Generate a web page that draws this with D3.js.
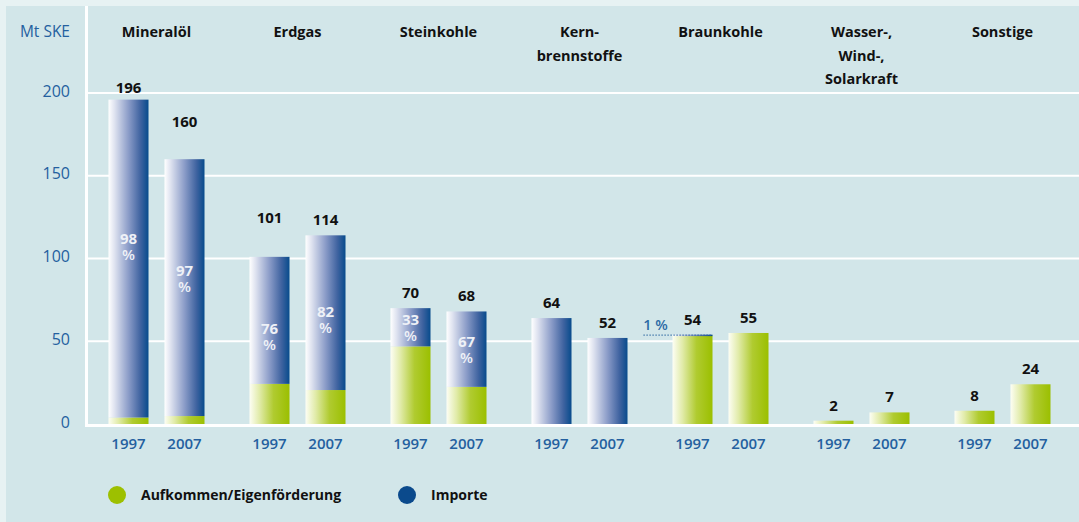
<!DOCTYPE html>
<html>
<head>
<meta charset="utf-8">
<script src="https://cdn.jsdelivr.net/npm/d3@7"></script>
<style>
  body { margin: 0; background: #e7f2f3; }
  svg { display: block; font-family: "Open Sans", "Noto Sans", sans-serif; }
</style>
</head>
<body>
<svg id="chart" width="1079" height="522"></svg>
<script>
// data in Mt SKE
var categories = ["Mineralöl", "Erdgas", "Steinkohle", "Kern-|brennstoffe", "Braunkohle", "Wasser-,|Wind-,|Solarkraft", "Sonstige"];
var years = ["1997", "2007"];
var total1997 = [196, 101, 70, 64, 54, 2, 8];
var total2007 = [160, 114, 68, 52, 55, 7, 24];
// share of imports in percent
var importShare1997 = [98, 76, 33, 100, 1, 0, 0];
var importShare2007 = [97, 82, 67, 100, 0, 0, 0];
var yTicks = [0, 50, 100, 150, 200];
var legendLabels = ["Aufkommen/Eigenförderung", "Importe"];

var green = "#9dc000", blue = "#0b4a8c", tickBlue = "#24609f";

// build bar rows
var rows = [];
categories.forEach(function (c, i) {
  [[total1997, importShare1997], [total2007, importShare2007]].forEach(function (s, j) {
    var tot = s[0][i], share = s[1][i];
    var imp = tot * share / 100;
    rows.push({cat: c, year: years[j], total: tot, share: share, eigen: tot - imp, imp: imp});
  });
});

var svg = d3.select("#chart");
var defs = svg.append("defs");
function grad(id, stops) {
  var g = defs.append("linearGradient").attr("id", id).attr("x1", "0%").attr("x2", "100%").attr("y1", "0%").attr("y2", "0%");
  stops.forEach(function (s) { g.append("stop").attr("offset", s[0]).attr("stop-color", s[1]); });
}
grad("gBlue", [["0%", "#ffffff"], ["15%", "#dfe3f0"], ["50%", "#8b9cc8"], ["80%", "#3f63a0"], ["100%", "#074b8c"]]);
grad("gGreen", [["0%", "#fdfef4"], ["25%", "#e1eba9"], ["60%", "#b0cb30"], ["100%", "#9bbf00"]]);

// panel
svg.append("rect").attr("x", 6).attr("y", 6).attr("width", 1073).attr("height", 516).attr("fill", "#d2e6e9");

var y = d3.scaleLinear().domain([0, 200]).range([424, 93]);
var x0 = d3.scaleBand().domain(categories).range([86, 1073]);
var x1 = d3.scaleBand().domain(years).range([22.5, 118.5]).paddingInner(16 / 56);

// grid
svg.append("g").selectAll("line").data(yTicks.filter(function (d) { return d > 0; })).enter()
  .append("line")
  .attr("x1", 88).attr("x2", 1079)
  .attr("y1", function (d) { return y(d); }).attr("y2", function (d) { return y(d); })
  .attr("stroke", "#ffffff").attr("stroke-width", 2);

// y axis labels
var yAxis = svg.append("g").attr("transform", "translate(70,0)")
  .call(d3.axisLeft(y).tickValues(yTicks).tickSize(0).tickPadding(0));
yAxis.select(".domain").remove();
yAxis.selectAll("text").attr("fill", tickBlue).attr("font-size", 16).attr("font-family", "Open Sans").attr("dy", "0.2em");

svg.append("text").attr("x", 70).attr("y", 37).attr("text-anchor", "end")
  .attr("fill", tickBlue).attr("font-size", 15.5).text("Mt SKE");

// category headers
categories.forEach(function (c) {
  var parts = c.split("|");
  var t = svg.append("text").attr("text-anchor", "middle").attr("font-size", 14.5).attr("font-weight", 700).attr("fill", "#111");
  parts.forEach(function (p, k) {
    t.append("tspan").attr("x", x0(c) + x0.bandwidth() / 2).attr("y", 37 + k * 23.5).text(p);
  });
});

// bars
var bars = svg.append("g").selectAll("g").data(rows).enter().append("g")
  .attr("transform", function (d) { return "translate(" + (x0(d.cat) + x1(d.year)) + ",0)"; });
var bw = x1.bandwidth();
bars.append("rect").attr("x", 0).attr("width", bw)
  .attr("y", function (d) { return y(d.eigen); })
  .attr("height", function (d) { return y(0) - y(d.eigen); })
  .attr("fill", "url(#gGreen)");
bars.filter(function (d) { return d.imp > 0; }).append("rect").attr("x", 0).attr("width", bw)
  .attr("y", function (d) { return y(d.total); })
  .attr("height", function (d) { return Math.max(1.5, y(d.eigen) - y(d.total)); })
  .attr("fill", "url(#gBlue)");

// value labels (a few sit higher in the original)
var lift = {"Mineralöl1997": 7, "Mineralöl2007": 32, "Erdgas1997": 34};
bars.append("text").attr("x", bw / 2).attr("text-anchor", "middle")
  .attr("y", function (d) { return y(d.total) - (lift[d.cat + d.year] || 10); })
  .attr("font-size", 15).attr("font-weight", 700).attr("fill", "#111")
  .text(function (d) { return d.total; });

// import share labels inside bars
var nudge = {"Mineralöl1997": -20, "Mineralöl2007": -17, "Erdgas1997": 9, "Erdgas2007": -1};
var pl = bars.filter(function (d) { return d.share > 1 && d.share < 100; });
pl.each(function (d) {
  var mid = (y(d.total) + y(d.eigen)) / 2 + (nudge[d.cat + d.year] !== undefined ? nudge[d.cat + d.year] : -7);
  var t = d3.select(this).append("text").attr("text-anchor", "middle")
    .attr("font-size", 15).attr("font-weight", 700).attr("fill", "#eef1f7");
  t.append("tspan").attr("x", bw / 2).attr("y", mid + 5).text(d.share);
  t.append("tspan").attr("x", bw / 2).attr("y", mid + 21).attr("font-weight", 600).text("%");
});

// 1 % marker for Braunkohle 1997
var bk = rows.filter(function (d) { return d.share === 1; })[0];
var bx = x0(bk.cat) + x1(bk.year);
svg.append("line").attr("x1", bx - 29).attr("x2", bx + bw)
  .attr("y1", y(bk.total) + 0.5).attr("y2", y(bk.total) + 0.5)
  .attr("stroke", "#2a64a0").attr("stroke-width", 1.2).attr("stroke-dasharray", "1.2,1.8");
svg.append("text").attr("x", bx - 17).attr("y", y(bk.total) - 5).attr("text-anchor", "middle")
  .attr("font-size", 14.5).attr("font-weight", 600).attr("fill", "#2c6aa5").text(bk.share + " %");

// axes lines
svg.append("line").attr("x1", 86.5).attr("x2", 86.5).attr("y1", 6).attr("y2", 425.5)
  .attr("stroke", "#fff").attr("stroke-width", 3);
svg.append("line").attr("x1", 85).attr("x2", 1079).attr("y1", y(0) + 1.5).attr("y2", y(0) + 1.5)
  .attr("stroke", "#fff").attr("stroke-width", 3);

// year labels
svg.append("g").selectAll("text").data(rows).enter().append("text")
  .attr("x", function (d) { return x0(d.cat) + x1(d.year) + bw / 2; })
  .attr("y", 449).attr("text-anchor", "middle")
  .attr("font-size", 15).attr("font-weight", 600).attr("fill", tickBlue)
  .text(function (d) { return d.year; });

// legend
var lx = [117, 407];
legendLabels.forEach(function (l, i) {
  svg.append("circle").attr("cx", lx[i]).attr("cy", 495).attr("r", 9).attr("fill", i === 0 ? green : blue);
  svg.append("text").attr("x", lx[i] + 24).attr("y", 500).attr("font-size", 14).attr("font-weight", 700)
    .attr("fill", "#111").text(l);
});
</script>
</body>
</html>
